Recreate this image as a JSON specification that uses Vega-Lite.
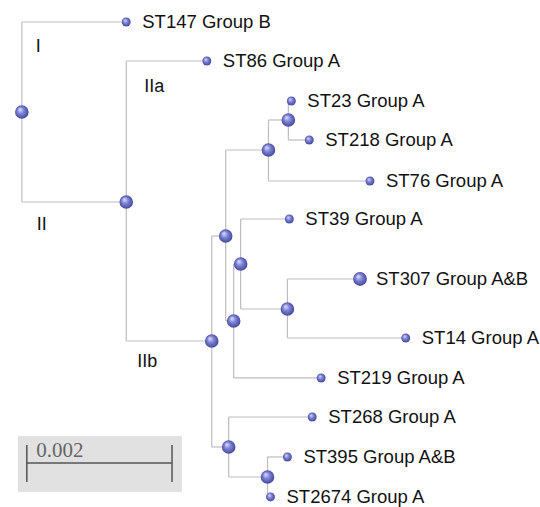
{
  "$schema": "https://vega.github.io/schema/vega-lite/v6.json",
  "width": 540,
  "height": 507,
  "padding": 0,
  "autosize": {"type": "fit", "contains": "padding"},
  "background": "white",
  "config": {"view": {"stroke": null}},
  "datasets": {
    "nodes": [
      {"id": "root", "dist": 0, "row": 2.274, "type": "internal", "label": ""},
      {"id": "ST147", "dist": 0.001438, "row": 0, "type": "tip", "label": "ST147 Group B"},
      {"id": "II", "dist": 0.001438, "row": 4.548, "type": "internal", "label": ""},
      {"id": "ST86", "dist": 0.002548, "row": 0.985, "type": "tip", "label": "ST86 Group A"},
      {"id": "IIb", "dist": 0.002616, "row": 8.06, "type": "internal", "label": ""},
      {"id": "A", "dist": 0.002808, "row": 5.407, "type": "internal", "label": ""},
      {"id": "B", "dist": 0.003397, "row": 3.234, "type": "internal", "label": ""},
      {"id": "C", "dist": 0.003671, "row": 2.476, "type": "internal", "label": ""},
      {"id": "ST23", "dist": 0.003712, "row": 1.996, "type": "tip", "label": "ST23 Group A"},
      {"id": "ST218", "dist": 0.003959, "row": 2.981, "type": "tip", "label": "ST218 Group A"},
      {"id": "ST76", "dist": 0.004795, "row": 4.017, "type": "tip", "label": "ST76 Group  A"},
      {"id": "N235", "dist": 0.002918, "row": 7.554, "type": "internal", "label": ""},
      {"id": "N242", "dist": 0.003014, "row": 6.114, "type": "internal", "label": ""},
      {"id": "ST39", "dist": 0.003685, "row": 4.977, "type": "tip", "label": "ST39 Group A"},
      {"id": "N289", "dist": 0.003658, "row": 7.251, "type": "internal", "label": ""},
      {"id": "ST307", "dist": 0.004658, "row": 6.493, "type": "major", "label": "ST307 Group A&B"},
      {"id": "ST14", "dist": 0.005288, "row": 7.984, "type": "tip", "label": "ST14 Group A"},
      {"id": "ST219", "dist": 0.004123, "row": 8.994, "type": "tip", "label": "ST219 Group A"},
      {"id": "D", "dist": 0.002849, "row": 10.738, "type": "internal", "label": ""},
      {"id": "ST268", "dist": 0.004, "row": 9.98, "type": "tip", "label": "ST268 Group A"},
      {"id": "E", "dist": 0.003384, "row": 11.496, "type": "internal", "label": ""},
      {"id": "ST395", "dist": 0.003658, "row": 10.99, "type": "tip", "label": "ST395 Group A&B"},
      {"id": "ST2674", "dist": 0.003425, "row": 12.0, "type": "tip", "label": "ST2674 Group A"}
    ],
    "edges": [
      {"pd": 0, "pr": 2.274, "cd": 0.001438, "cr": 0},
      {"pd": 0, "pr": 2.274, "cd": 0.001438, "cr": 4.548},
      {"pd": 0.001438, "pr": 4.548, "cd": 0.002548, "cr": 0.985},
      {"pd": 0.001438, "pr": 4.548, "cd": 0.002616, "cr": 8.06},
      {"pd": 0.002616, "pr": 8.06, "cd": 0.002808, "cr": 5.407},
      {"pd": 0.002616, "pr": 8.06, "cd": 0.002849, "cr": 10.738},
      {"pd": 0.002808, "pr": 5.407, "cd": 0.003397, "cr": 3.234},
      {"pd": 0.002808, "pr": 5.407, "cd": 0.002918, "cr": 7.554},
      {"pd": 0.003397, "pr": 3.234, "cd": 0.003671, "cr": 2.476},
      {"pd": 0.003397, "pr": 3.234, "cd": 0.004795, "cr": 4.017},
      {"pd": 0.003671, "pr": 2.476, "cd": 0.003712, "cr": 1.996},
      {"pd": 0.003671, "pr": 2.476, "cd": 0.003959, "cr": 2.981},
      {"pd": 0.002918, "pr": 7.554, "cd": 0.003014, "cr": 6.114},
      {"pd": 0.002918, "pr": 7.554, "cd": 0.004123, "cr": 8.994},
      {"pd": 0.003014, "pr": 6.114, "cd": 0.003685, "cr": 4.977},
      {"pd": 0.003014, "pr": 6.114, "cd": 0.003658, "cr": 7.251},
      {"pd": 0.003658, "pr": 7.251, "cd": 0.004658, "cr": 6.493},
      {"pd": 0.003658, "pr": 7.251, "cd": 0.005288, "cr": 7.984},
      {"pd": 0.002849, "pr": 10.738, "cd": 0.004, "cr": 9.98},
      {"pd": 0.002849, "pr": 10.738, "cd": 0.003384, "cr": 11.496},
      {"pd": 0.003384, "pr": 11.496, "cd": 0.003658, "cr": 10.99},
      {"pd": 0.003384, "pr": 11.496, "cd": 0.003425, "cr": 12.0}
    ],
    "clades": [
      {"name": "I", "dist": 0.000192, "row": 0.624},
      {"name": "IIa", "dist": 0.001685, "row": 1.642},
      {"name": "II", "dist": 0.000205, "row": 5.129},
      {"name": "IIb", "dist": 0.001589, "row": 8.603}
    ],
    "scalebox": [
      {"x1": -0.0000548, "x2": 0.002205, "r1": 10.46, "r2": 11.875}
    ],
    "scalebar": [
      {"start": 0.0000685, "end": 0.0020685, "row": 11.142, "tickTop": 10.687, "tickBottom": 11.622, "text": "0.002", "textRow": 10.85, "textStart": 0.000198}
    ]
  },
  "encoding": {
    "x": {"type": "quantitative", "scale": {"domain": [-0.000301, 0.007096], "nice": false, "zero": false}, "axis": null},
    "y": {"type": "quantitative", "scale": {"domain": [-0.5558, 12.254], "nice": false, "zero": false, "reverse": true}, "axis": null}
  },
  "layer": [
    {
      "data": {"name": "scalebox"},
      "mark": {"type": "rect", "color": "#e1e1e1"},
      "encoding": {
        "x": {"field": "x1", "type": "quantitative"},
        "x2": {"field": "x2"},
        "y": {"field": "r1", "type": "quantitative"},
        "y2": {"field": "r2"}
      }
    },
    {
      "data": {"name": "scalebar"},
      "mark": {"type": "rule", "color": "#555555", "strokeWidth": 1.5},
      "encoding": {
        "x": {"field": "start", "type": "quantitative"},
        "x2": {"field": "end"},
        "y": {"field": "row", "type": "quantitative"}
      }
    },
    {
      "data": {"name": "scalebar"},
      "mark": {"type": "rule", "color": "#555555", "strokeWidth": 1.5},
      "encoding": {
        "x": {"field": "start", "type": "quantitative"},
        "y": {"field": "tickTop", "type": "quantitative"},
        "y2": {"field": "tickBottom"}
      }
    },
    {
      "data": {"name": "scalebar"},
      "mark": {"type": "rule", "color": "#555555", "strokeWidth": 1.5},
      "encoding": {
        "x": {"field": "end", "type": "quantitative"},
        "y": {"field": "tickTop", "type": "quantitative"},
        "y2": {"field": "tickBottom"}
      }
    },
    {
      "data": {"name": "scalebar"},
      "mark": {"type": "text", "align": "left", "baseline": "middle", "font": "Liberation Serif", "fontSize": 21, "color": "#666666"},
      "encoding": {
        "x": {"field": "textStart", "type": "quantitative"},
        "y": {"field": "textRow", "type": "quantitative"},
        "text": {"field": "text"}
      }
    },
    {
      "data": {"name": "edges"},
      "mark": {"type": "rule", "color": "#bdbdbd", "strokeWidth": 1.2},
      "encoding": {
        "x": {"field": "pd", "type": "quantitative"},
        "y": {"field": "pr", "type": "quantitative"},
        "y2": {"field": "cr"}
      }
    },
    {
      "data": {"name": "edges"},
      "mark": {"type": "rule", "color": "#bdbdbd", "strokeWidth": 1.2},
      "encoding": {
        "x": {"field": "pd", "type": "quantitative"},
        "x2": {"field": "cd"},
        "y": {"field": "cr", "type": "quantitative"}
      }
    },
    {
      "data": {"name": "nodes"},
      "mark": {
        "type": "point",
        "shape": "circle",
        "filled": true,
        "opacity": 1,
        "strokeWidth": 0,
        "fill": {
          "gradient": "radial",
          "x1": 0.35, "y1": 0.3, "r1": 0,
          "x2": 0.5, "y2": 0.5, "r2": 0.55,
          "stops": [
            {"offset": 0, "color": "#e2e4ff"},
            {"offset": 0.45, "color": "#7c82d4"},
            {"offset": 1, "color": "#3c4096"}
          ]
        }
      },
      "encoding": {
        "x": {"field": "dist", "type": "quantitative"},
        "y": {"field": "row", "type": "quantitative"},
        "size": {"field": "type", "type": "nominal", "scale": {"type": "ordinal", "domain": ["internal", "tip", "major"], "range": [185, 80, 190]}, "legend": null}
      }
    },
    {
      "data": {"name": "nodes"},
      "transform": [{"filter": "datum.label != ''"}],
      "mark": {"type": "text", "align": "left", "baseline": "middle", "dx": 16, "font": "Liberation Sans", "fontSize": 18.5, "color": "#111111"},
      "encoding": {
        "x": {"field": "dist", "type": "quantitative"},
        "y": {"field": "row", "type": "quantitative"},
        "text": {"field": "label"}
      }
    },
    {
      "data": {"name": "clades"},
      "mark": {"type": "text", "align": "left", "baseline": "middle", "font": "Liberation Sans", "fontSize": 18, "color": "#111111"},
      "encoding": {
        "x": {"field": "dist", "type": "quantitative"},
        "y": {"field": "row", "type": "quantitative"},
        "text": {"field": "name"}
      }
    }
  ]
}
